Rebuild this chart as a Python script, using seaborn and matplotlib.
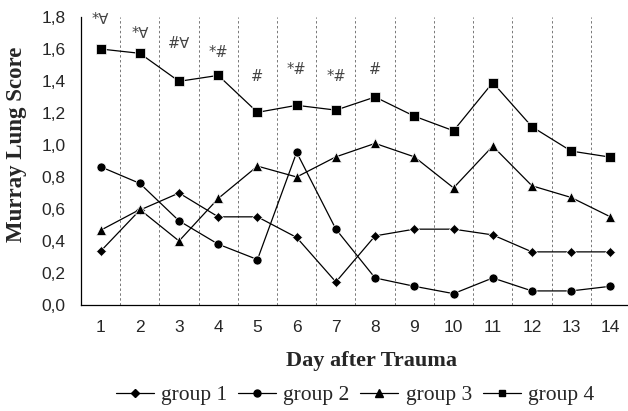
import matplotlib
matplotlib.use("Agg")
import matplotlib.pyplot as plt
import seaborn as sns
import pandas as pd
import numpy as np
from matplotlib.ticker import FixedLocator, FuncFormatter
from matplotlib.lines import Line2D

days = list(range(1, 15))
group1 = [0.336, 0.593, 0.70, 0.551, 0.551, 0.422, 0.144, 0.432, 0.474, 0.474, 0.438, 0.332, 0.332, 0.332]
group2 = [0.864, 0.76, 0.526, 0.38, 0.284, 0.954, 0.474, 0.169, 0.117, 0.071, 0.169, 0.088, 0.088, 0.117]
group3 = [0.467, 0.597, 0.40, 0.666, 0.868, 0.80, 0.926, 1.01, 0.926, 0.732, 0.993, 0.745, 0.672, 0.551]
group4 = [1.60, 1.573, 1.398, 1.435, 1.204, 1.248, 1.218, 1.30, 1.18, 1.089, 1.39, 1.114, 0.962, 0.924]
group_names = ["group 1", "group 2", "group 3", "group 4"]

sig_days = [1, 2, 3, 4, 5, 6, 7, 8]
sig_labels = ["*∀", "*∀", "#∀", "*#", "#", "*#", "*#", "#"]
sig_heights = [1.79, 1.70, 1.637, 1.58, 1.43, 1.47, 1.43, 1.47]

yticks = [0.0, 0.2, 0.4, 0.6, 0.8, 1.0, 1.2, 1.4, 1.6, 1.8]

df = pd.DataFrame({
    "day": days * 4,
    "score": group1 + group2 + group3 + group4,
    "group": sum([[g] * len(days) for g in group_names], []),
})

sns.set_style("white")
plt.rcParams["font.family"] = ["Liberation Sans", "DejaVu Sans"]

fig = plt.figure(figsize=(6.28, 4.11), dpi=100)
ax = fig.add_axes([81 / 628, 1 - 305 / 411, 549 / 628, 288 / 411])

markers = {"group 1": "D", "group 2": "o", "group 3": "^", "group 4": "s"}
sizes = {"group 1": 5.5, "group 2": 6.5, "group 3": 7.5, "group 4": 6.5}
sns.lineplot(data=df, x="day", y="score", hue="group", style="group",
             palette=["black"] * 4, markers=markers, dashes=False,
             linewidth=0.9, ax=ax, legend=False)
for line, g in zip(ax.get_lines(), group_names):
    line.set_markersize(sizes[g])
    line.set_markeredgewidth(0.5)

ax.set_xlim(0.5, 14.5)
ax.set_ylim(0, 1.8)

# dotted separators between days
for b in np.arange(1.5, 14.5, 1.0):
    ax.axvline(b, color="#777777", linestyle=(0, (2.5, 2.5)), linewidth=0.7, zorder=0)

ax.xaxis.set_major_locator(FixedLocator(days))
ax.xaxis.set_minor_locator(FixedLocator(list(np.arange(1.5, 14.5, 1.0))))
ax.tick_params(axis="x", which="major", length=0, pad=11, labelsize=12.5)
ax.tick_params(axis="x", which="minor", length=5.5, width=0.9, direction="out", color="black")
ax.set_yticks(yticks)
ax.yaxis.set_major_formatter(FuncFormatter(lambda v, p: f"{v:.1f}".replace(".", ",")))
ax.tick_params(axis="y", length=7, width=0.9, direction="out", labelsize=12.5, pad=4, color="black")

for s in ["top", "right"]:
    ax.spines[s].set_visible(False)
for s in ["left", "bottom"]:
    ax.spines[s].set_color("black")
    ax.spines[s].set_linewidth(0.9)

serif = ["Liberation Serif", "DejaVu Serif"]
ax.set_xlabel("Day after Trauma", fontsize=16, fontweight="bold", family=serif)
ax.xaxis.set_label_coords((372 - 81) / 549, (305 - 351) / 288)
ax.set_ylabel("Murray Lung Score", fontsize=16.5, fontweight="bold", family=serif)
ax.yaxis.set_label_coords((27 - 81) / 549, (305 - 144) / 288)

for d, lab, h in zip(sig_days, sig_labels, sig_heights):
    ax.text(d, h, lab, ha="center", va="center", fontsize=10.5, color="#444444",
            family=["DejaVu Sans"])

handles = [Line2D([], [], color="black", marker=markers[g], markersize=sizes[g] - 1.5,
                  linewidth=0.9) for g in group_names]
fig.legend(handles, group_names, loc="center", bbox_to_anchor=(355 / 628, 1 - 395 / 411),
           ncol=4, frameon=False, handlelength=1.77, columnspacing=0.5, handletextpad=0.33,
           borderpad=0, prop={"family": serif, "size": 15.5})

fig.savefig("out.png", dpi=100)
